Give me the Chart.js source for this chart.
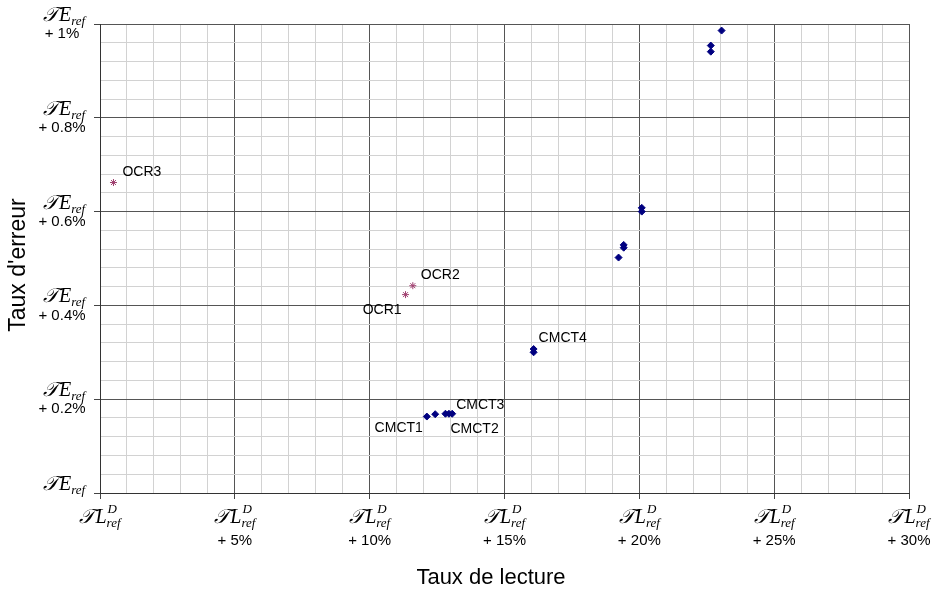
<!DOCTYPE html>
<html>
<head>
<meta charset="utf-8">
<script src="https://cdn.jsdelivr.net/npm/chart.js@4.4.1/dist/chart.umd.min.js"></script>
<style>
  body { margin: 0; background: #fff; }
</style>
</head>
<body>
<canvas id="chart" width="932" height="594"></canvas>
<script>
// CMCT points (taux de lecture %, taux d'erreur %)
const cmctX = [23.05, 22.65, 22.65, 20.09, 20.09, 19.42, 19.42, 19.23, 16.08, 16.08, 12.12, 12.43, 12.81, 12.94, 13.06];
const cmctY = [0.986, 0.954, 0.941, 0.608, 0.600, 0.529, 0.523, 0.502, 0.307, 0.300, 0.163, 0.168, 0.169, 0.169, 0.169];
const cmctNames = ['CMCT1', 'CMCT2', 'CMCT3', 'CMCT4'];
const cmctNameAt = [10, 12, 14, 8];

// OCR points
const ocrX = [11.33, 11.60, 0.50];
const ocrY = [0.423, 0.442, 0.662];
const ocrNames = ['OCR1', 'OCR2', 'OCR3'];
const ocrNameAt = [0, 1, 2];

// tick labels
const xMajor = [0, 5, 10, 15, 20, 25, 30];
const xTickText = ['', '+ 5%', '+ 10%', '+ 15%', '+ 20%', '+ 25%', '+ 30%'];
const yMajor = [0, 0.2, 0.4, 0.6, 0.8, 1];
const yTickText = ['', '+ 0.2%', '+ 0.4%', '+ 0.6%', '+ 0.8%', '+ 1%'];

const SCRIPT_T = '\u{1D4AF}';
const SERIF = '"Liberation Serif", "DejaVu Serif", serif';
const SANS = '"Liberation Sans", Arial, sans-serif';

// label placement: [dx, dy, align]
const nameStyle = {
  CMCT1: [-4, 12, 'right'], CMCT2: [5, 15, 'left'], CMCT3: [4, -9, 'left'], CMCT4: [5, -11, 'left'],
  OCR1: [-4, 16, 'right'], OCR2: [8, -11, 'left'], OCR3: [9, -10, 'left']
};

function isMajor(v, step) {
  return Math.abs(v / step - Math.round(v / step)) < 1e-6;
}

function drawRef(ctx, cx, cy, letter, sup) {
  const big = 'italic 20px ' + SERIF;
  const small = 'italic 13px ' + SERIF;
  ctx.font = big;
  const wT = ctx.measureText(SCRIPT_T).width + 1;
  const wL = ctx.measureText(letter).width;
  ctx.font = small;
  let wS = ctx.measureText('ref').width;
  if (sup) wS = Math.max(wS, ctx.measureText(sup).width);
  let x = cx - (wT + wL + wS) / 2;
  const base = cy + 6;
  ctx.textAlign = 'left';
  ctx.textBaseline = 'alphabetic';
  ctx.fillStyle = '#000';
  ctx.font = big;
  ctx.fillText(SCRIPT_T, x, base);
  x += wT;
  ctx.fillText(letter, x, base);
  x += wL;
  ctx.font = small;
  ctx.fillText('ref', x, base + 4);
  if (sup) ctx.fillText(sup, x + 1, base - 10);
}

const refLabels = {
  id: 'refLabels',
  afterDraw(chart) {
    const ctx = chart.ctx;
    const xs = chart.scales.x, ys = chart.scales.y;
    const area = chart.chartArea;
    ctx.save();

    // y ticks
    yMajor.forEach((v, i) => {
      const py = ys.getPixelForValue(v);
      drawRef(ctx, 64, py - 9, 'E');
      if (yTickText[i]) {
        ctx.font = '15px ' + SANS;
        ctx.textAlign = 'center';
        ctx.textBaseline = 'middle';
        ctx.fillText(yTickText[i], 62, py + 10);
      }
    });

    // x ticks
    xMajor.forEach((v, i) => {
      const px = xs.getPixelForValue(v);
      drawRef(ctx, px, area.bottom + 24, 'L', 'D');
      if (xTickText[i]) {
        ctx.font = '15px ' + SANS;
        ctx.textAlign = 'center';
        ctx.textBaseline = 'middle';
        ctx.fillText(xTickText[i], px, area.bottom + 48);
      }
    });

    // axis titles
    ctx.fillStyle = '#000';
    ctx.font = '22px ' + SANS;
    ctx.textAlign = 'center';
    ctx.textBaseline = 'middle';
    ctx.fillText('Taux de lecture', 491, 578);
    ctx.save();
    ctx.translate(19, 265);
    ctx.rotate(-Math.PI / 2);
    ctx.font = '23px ' + SANS;
    ctx.fillText("Taux d'erreur", 0, 0);
    ctx.restore();

    // point names
    ctx.font = '14px ' + SANS;
    ctx.textBaseline = 'middle';
    const put = (names, at, X, Y) => {
      names.forEach((n, i) => {
        const s = nameStyle[n];
        const px = xs.getPixelForValue(X[at[i]]);
        const py = ys.getPixelForValue(Y[at[i]]);
        ctx.textAlign = s[2];
        ctx.fillText(n, px + s[0], py + s[1]);
      });
    };
    put(cmctNames, cmctNameAt, cmctX, cmctY);
    put(ocrNames, ocrNameAt, ocrX, ocrY);
    ctx.restore();
  }
};

const gridOpts = step => ({
  color: c => isMajor(c.tick.value, step) ? '#555' : '#d2d2d2',
  tickColor: c => isMajor(c.tick.value, step) ? '#444' : 'rgba(0,0,0,0)',
  tickLength: 6,
  lineWidth: 1
});

new Chart(document.getElementById('chart'), {
  type: 'scatter',
  data: {
    datasets: [{
      label: 'CMCT',
      data: cmctX.map((x, i) => ({ x: x, y: cmctY[i] })),
      pointStyle: 'rectRot',
      pointRadius: 3.5,
      backgroundColor: '#000080',
      borderColor: '#000080',
      borderWidth: 1
    }, {
      label: 'OCR',
      data: ocrX.map((x, i) => ({ x: x, y: ocrY[i] })),
      pointStyle: 'star',
      pointRadius: 3.5,
      backgroundColor: '#a04070',
      borderColor: '#a04070',
      borderWidth: 1
    }]
  },
  options: {
    responsive: false,
    animation: false,
    devicePixelRatio: 1,
    layout: { padding: { top: 24, right: 23, left: 0, bottom: 0 } },
    plugins: { legend: { display: false }, tooltip: { enabled: false } },
    scales: {
      x: {
        type: 'linear', min: 0, max: 30,
        ticks: { stepSize: 1, display: false },
        grid: gridOpts(5),
        border: { color: '#333' },
        afterFit: s => { s.height = 101; }
      },
      y: {
        type: 'linear', min: 0, max: 1,
        ticks: { stepSize: 0.04, display: false },
        grid: gridOpts(0.2),
        border: { color: '#333' },
        afterFit: s => { s.width = 100; }
      }
    }
  },
  plugins: [refLabels]
});
</script>
</body>
</html>
